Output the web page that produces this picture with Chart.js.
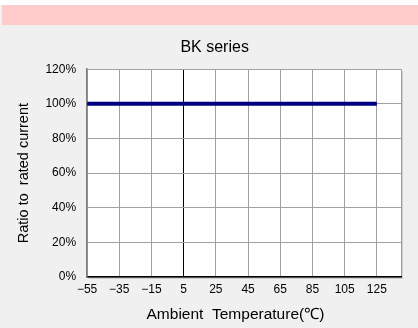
<!DOCTYPE html>
<html>
<head>
<meta charset="utf-8">
<script src="https://cdn.jsdelivr.net/npm/chart.js@4"></script>
<style>
  html, body { margin: 0; padding: 0; background: #f0f0f0; }
  #band { position: absolute; left: 2px; top: 5px; width: 416px; height: 20px; background: #ffcccc; }
  #top { position: absolute; left: 0; top: 0; width: 418px; height: 5px; background: #fff; }
  #wrap { position: absolute; left: 0; top: 0; width: 418px; height: 328px; }
</style>
</head>
<body>
<div id="top"></div>
<div id="band"></div>
<div id="wrap"><canvas id="derating"></canvas></div>
<script>
const temps = [-55, 125];
const ratio = [100, 100];
const xTicks = [-55, -35, -15, 5, 25, 45, 65, 85, 105, 125];
const xMax = 140;
const yTicks = [0, 20, 40, 60, 80, 100, 120];

// white plot area with a faint shadow on the right/bottom
const plotBg = {
    id: 'plotBg',
    beforeDraw(chart) {
        const { ctx, chartArea: a } = chart;
        ctx.save();
        ctx.fillStyle = '#cfcfcf';
        ctx.fillRect(a.left + 2, a.top + 2, a.right - a.left, a.bottom - a.top);
        ctx.fillStyle = '#ffffff';
        ctx.fillRect(a.left, a.top, a.right - a.left, a.bottom - a.top);
        ctx.restore();
    }
};

const minus = v => String(v).replace('-', '\u2212');
const FONT = 'Liberation Sans, Arial';

new Chart(document.getElementById('derating').getContext('2d'), {
    type: 'line',
    data: {
        datasets: [{
            data: temps.map((t, i) => ({ x: t, y: ratio[i] })),
            borderColor: '#000080',
            borderWidth: 4,
            pointRadius: 0,
            tension: 0
        }]
    },
    options: {
        responsive: true,
        maintainAspectRatio: false,
        animation: false,
        layout: { padding: { top: 38, left: 15, right: 17, bottom: 4 } },
        plugins: {
            legend: { display: false },
            tooltip: { enabled: false },
            title: {
                display: true,
                text: '\u00a0\u00a0\u00a0BK series',
                color: '#000',
                font: { family: FONT, size: 16, weight: 'normal' },
                padding: { top: 0, bottom: 12 }
            }
        },
        scales: {
            x: {
                type: 'linear',
                min: xTicks[0],
                max: xMax,
                afterBuildTicks: axis => { axis.ticks = xTicks.concat([xMax]).map(v => ({ value: v })); },
                ticks: {
                    autoSkip: false,
                    maxRotation: 0,
                    padding: 5,
                    color: '#000',
                    font: { family: FONT, size: 12 },
                    callback: v => (v === xMax ? '' : minus(v))
                },
                grid: {
                    drawTicks: false,
                    color: c => (c.tick && c.tick.value === 5 ? '#000000' : '#a0a0a0')
                },
                border: { color: '#000', width: 1.5 },
                title: {
                    display: true,
                    text: 'Ambient\u00a0\u00a0Temperature(\u2103)\u00a0\u00a0\u00a0\u00a0',
                    color: '#000',
                    font: { family: FONT, size: 15.5 },
                    padding: { top: 4, bottom: 0 }
                }
            },
            y: {
                min: yTicks[0],
                max: yTicks[yTicks.length - 1],
                afterBuildTicks: axis => { axis.ticks = yTicks.map(v => ({ value: v })); },
                ticks: {
                    padding: 11,
                    color: '#000',
                    font: { family: FONT, size: 12 },
                    callback: v => v + '%'
                },
                grid: { drawTicks: false, color: '#a0a0a0' },
                border: { color: '#808080', width: 1.5 },
                title: {
                    display: true,
                    text: 'Ratio to\u00a0\u00a0rated current',
                    color: '#000',
                    font: { family: FONT, size: 14.5 },
                    padding: { top: 0, bottom: 2 }
                }
            }
        }
    },
    plugins: [plotBg]
});
</script>
</body>
</html>
